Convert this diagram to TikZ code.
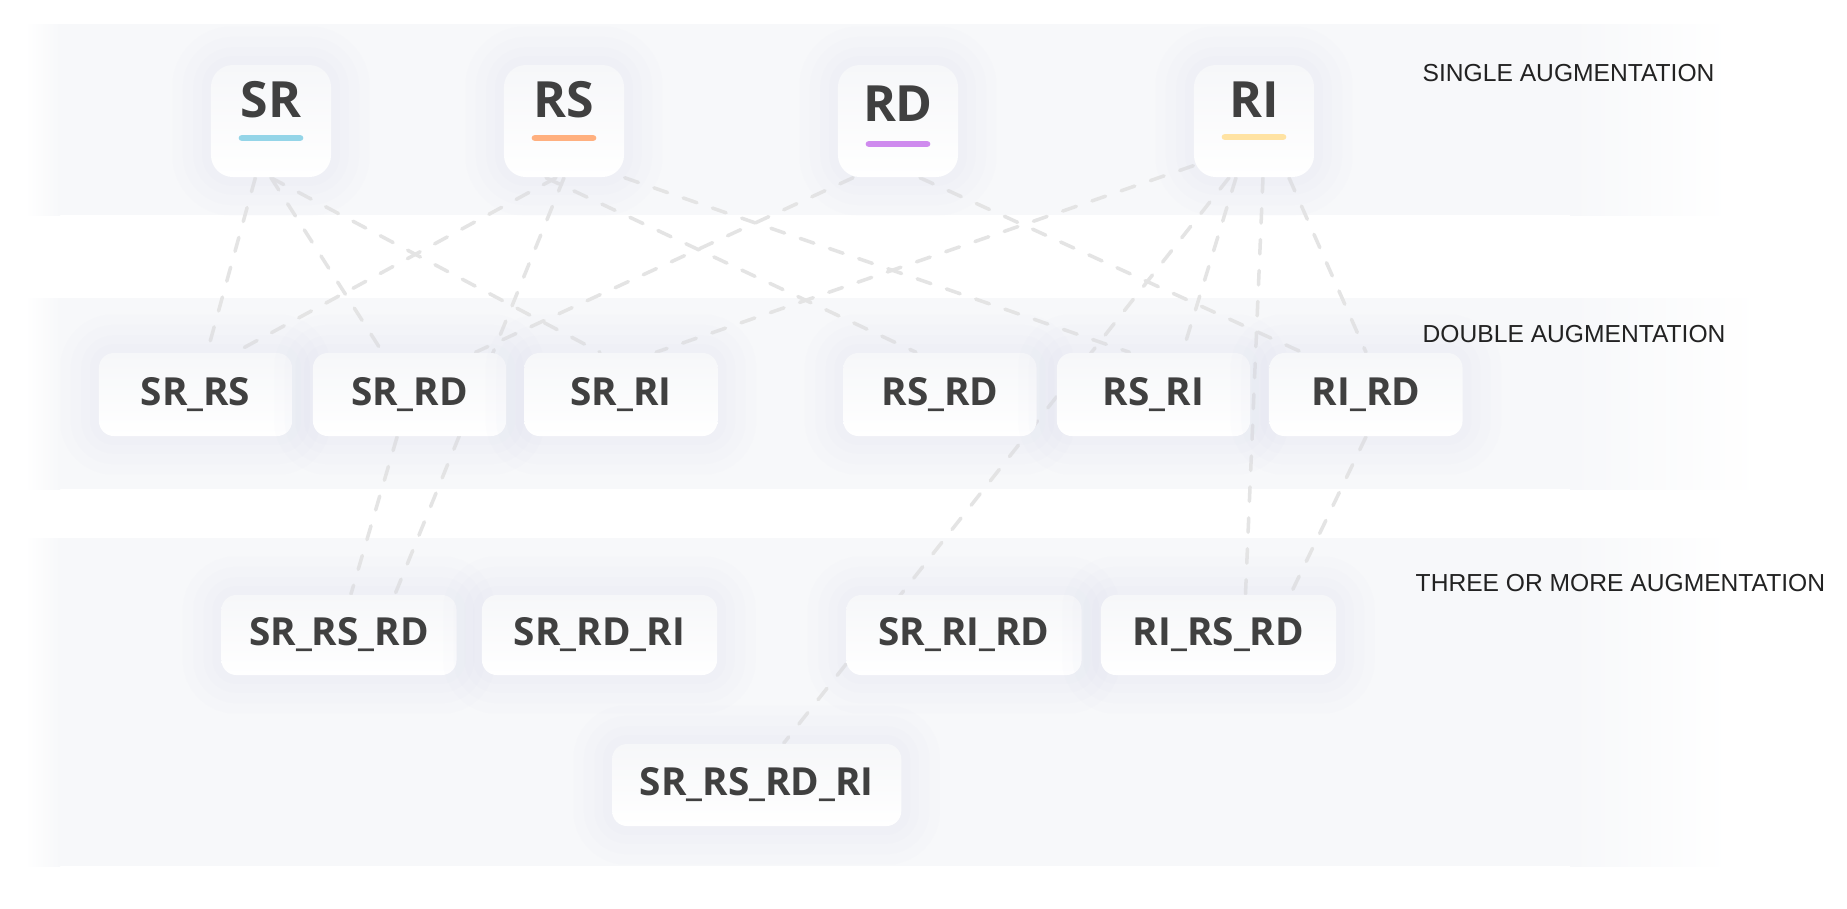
\documentclass[tikz,border=0pt]{standalone}
\usepackage{fontspec}
\setmainfont{Open Sans}
\newfontfamily\headfont{Liberation Sans}
\usetikzlibrary{calc}
\pgfdeclarelayer{bands}
\pgfdeclarelayer{edges}
\pgfsetlayers{bands,edges,main}
\definecolor{inkc}{HTML}{404040}
\definecolor{headc}{HTML}{222222}
\definecolor{bandc}{HTML}{F7F8FA}
\definecolor{cardtop}{HTML}{F6F7F9}
\definecolor{glowc}{HTML}{D8DEEC}
\definecolor{edgec}{HTML}{E4E4E4}
\definecolor{src}{HTML}{94D5E8}
\definecolor{rsc}{HTML}{FFB07F}
\definecolor{rdc}{HTML}{CF8AEE}
\definecolor{ric}{HTML}{FFE3A3}

\begin{document}
\begin{tikzpicture}[x=0.01cm, y=-0.01cm,
  card/.style={rounded corners=0.15cm, inner sep=0pt, top color=cardtop, bottom color=white,
    text=inkc, font=\fontsize{11}{13}\selectfont\bfseries, text height=8pt, text depth=2pt,
    preaction={draw=glowc, line width=22pt, opacity=0.05},
    preaction={draw=glowc, line width=16pt, opacity=0.06},
    preaction={draw=glowc, line width=10pt, opacity=0.07},
    preaction={draw=glowc, line width=5pt, opacity=0.08}},
  single/.style={card, minimum width=1.2cm, minimum height=1.12cm, rounded corners=0.22cm,
    font=\fontsize{14.2}{16}\selectfont\bfseries, text height=10.2pt, text depth=12.2pt},
  pair/.style={card, minimum width=1.93cm, minimum height=0.83cm},
  triple/.style={card, minimum width=2.35cm, minimum height=0.8cm},
  quad/.style={card, minimum width=2.89cm, minimum height=0.82cm},
  tag/.style={line width=1.9pt, line cap=round},
  link/.style={draw=edgec, line width=1pt, dash pattern=on 4.1pt off 4.7pt, line cap=round},
  heading/.style={anchor=west, inner sep=0pt, text=headc, font=\headfont\fontsize{7}{8}\selectfont}]

\useasboundingbox (0,0) rectangle (1847,908);

\begin{pgfonlayer}{bands}
\fill[white] (0,0) rectangle (1847,908);
\fill[bandc] (60,24) rectangle (1570,215);
\shade[left color=white, right color=bandc] (25,24) rectangle (60,215);
\shade[left color=bandc, right color=white] (1570,24) rectangle (1730,215);
\fill[bandc] (60,298) rectangle (1570,489);
\shade[left color=white, right color=bandc] (25,298) rectangle (60,489);
\shade[left color=bandc, right color=white] (1570,298) rectangle (1760,489);
\fill[bandc] (60,538) rectangle (1570,866);
\shade[left color=white, right color=bandc] (25,538) rectangle (60,866);
\shade[left color=bandc, right color=white] (1570,538) rectangle (1730,866);
\end{pgfonlayer}

\node[single] (sr) at (271,121) {SR};
\node[single] (rs) at (564,121) {RS};
\node[single, text depth=10pt] (rd) at (898,121) {RD};
\node[single] (ri) at (1254,121) {RI};

\draw[tag, src] ($(sr)+(-29,17)$) -- ($(sr)+(29,17)$);
\draw[tag, rsc] ($(rs)+(-29,17)$) -- ($(rs)+(29,17)$);
\draw[tag, rdc] ($(rd)+(-29,23)$) -- ($(rd)+(29,23)$);
\draw[tag, ric] ($(ri)+(-29,16)$) -- ($(ri)+(29,16)$);

\node[pair] (srrs) at (195.5,394.5) {SR\_RS};
\node[pair] (srrd) at (409.5,394.5) {SR\_RD};
\node[pair] (srri) at (621,394.5) {SR\_RI};
\node[pair] (rsrd) at (940,394.5) {RS\_RD};
\node[pair] (rsri) at (1153.5,394.5) {RS\_RI};
\node[pair] (rird) at (1366,394.5) {RI\_RD};

\node[triple] (srrsrd) at (339,635) {SR\_RS\_RD};
\node[triple] (srrdri) at (599.5,635) {SR\_RD\_RI};
\node[triple] (srrird) at (964,635) {SR\_RI\_RD};
\node[triple] (rirsrd) at (1218.5,635) {RI\_RS\_RD};

\node[quad] (srrsrdri) at (756.7,785) {SR\_RS\_RD\_RI};

\node[heading] (single) at (1422,73) {SINGLE AUGMENTATION};
\node[heading] (double) at (1422,334.5) {DOUBLE AUGMENTATION};
\node[heading] (multi) at (1415,583) {THREE OR MORE AUGMENTATION};

\begin{pgfonlayer}{edges}
\draw[link] (sr) -- (srrs);
\draw[link] (sr.south) -- (srrd);
\draw[link] (sr.south) -- ($(srri.north)+(-21,0)$);
\draw[link] ($(rs.south)+(-8,0)$) -- ($(srrs.north)+(40,0)$);
\draw[link] ($(rs.south)+(-18,0)$) -- ($(rsrd.north)+(-24,0)$);
\draw[link] (rs.south east) -- ($(rsri.north)+(-24,0)$);
\draw[link] (rs.south) -- ($(srrsrd.north)+(56,0)$);
\draw[link] ($(rd.south)+(-45,0)$) -- ($(srrd.north)+(66,0)$);
\draw[link] ($(rd.south)+(22,0)$) -- ($(rird.north)+(-64,0)$);
\draw[link] ($(ri.south west)+(0,-12)$) -- ($(srri.north)+(35,0)$);
\draw[link] ($(ri.south)+(-18,0)$) -- ($(rsri.north)+(29,0)$);
\draw[link] ($(ri.south)+(35,0)$) -- (rird.north);
\draw[link] ($(ri.south)+(9,0)$) -- ($(rirsrd.north)+(27,0)$);
\draw[link] ($(ri.south)+(-25,0)$) -- ($(srrsrdri.north)+(27,0)$);
\draw[link] (srrd) -- (srrsrd);
\draw[link] (rird.south) -- ($(rirsrd.north)+(72,0)$);
\end{pgfonlayer}
\end{tikzpicture}
\end{document}
